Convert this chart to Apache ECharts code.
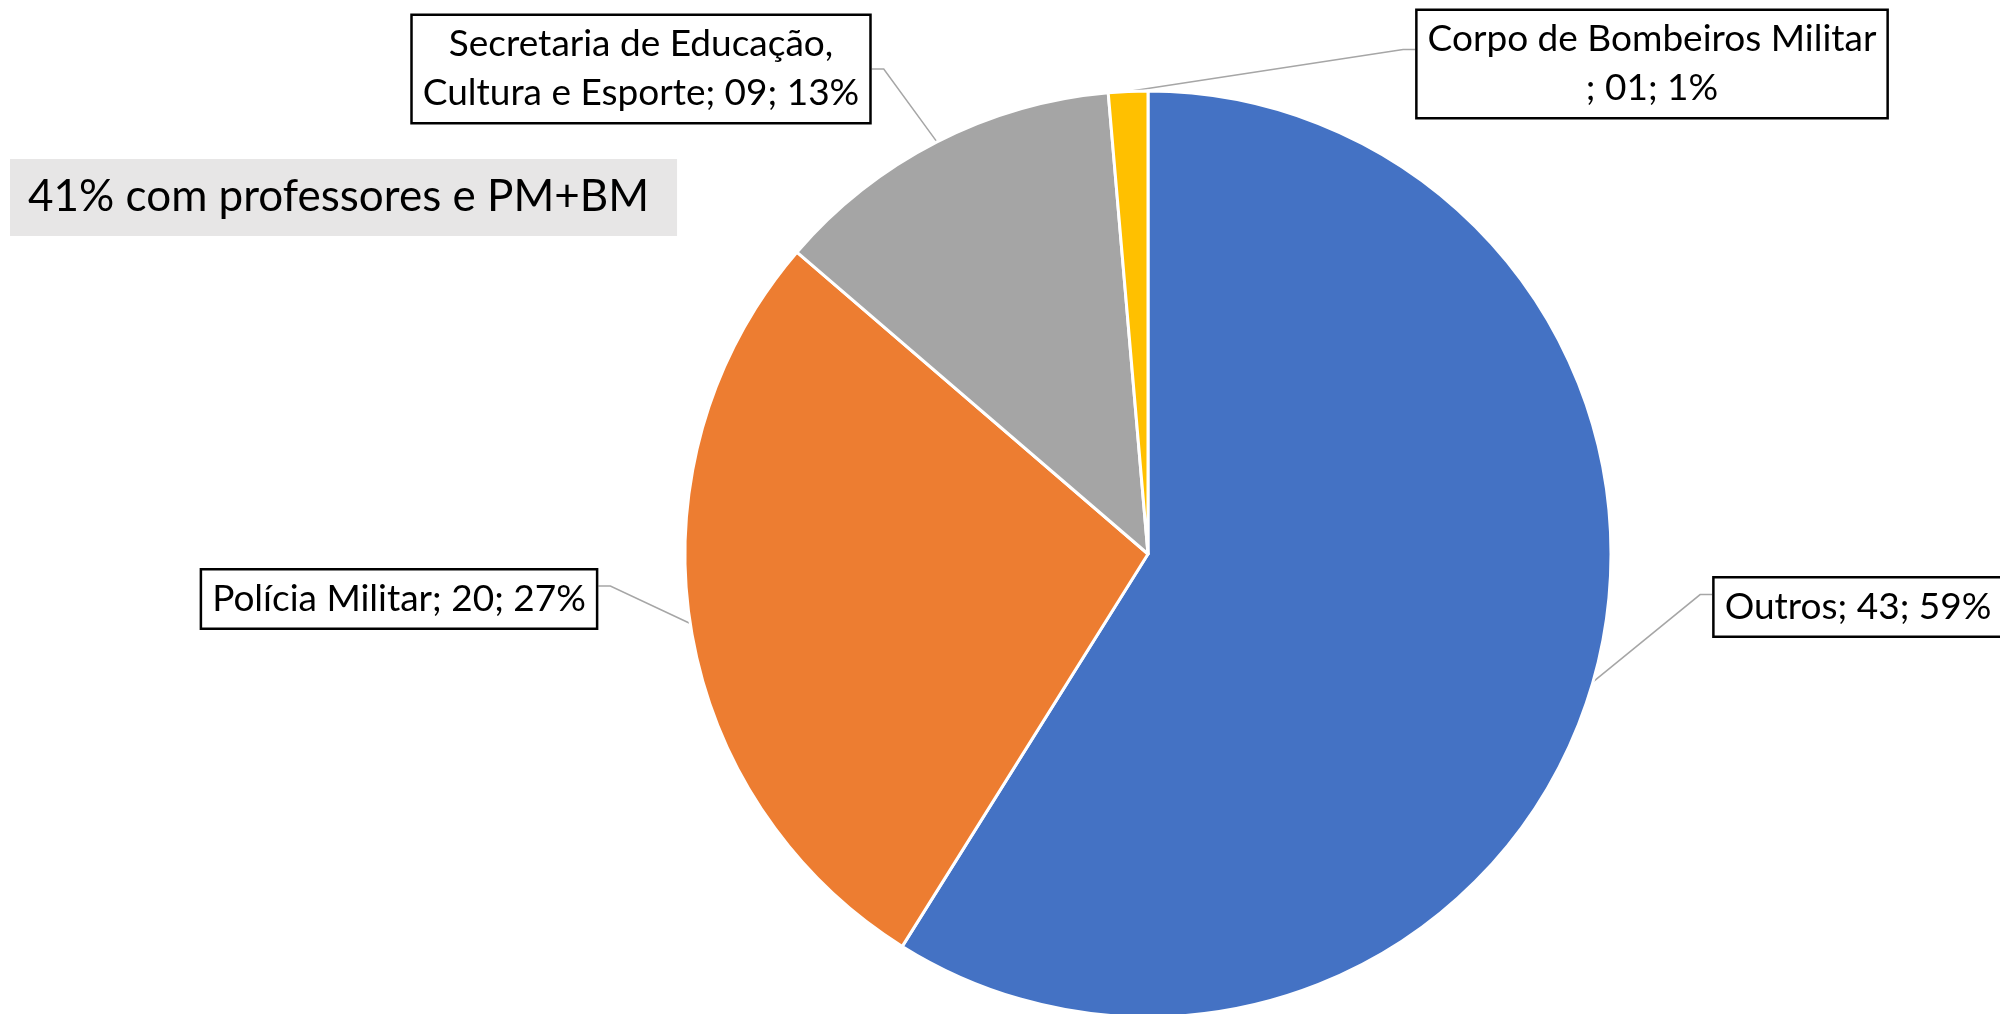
<!DOCTYPE html>
<html>
<head>
<meta charset="utf-8">
<script src="https://cdn.jsdelivr.net/npm/echarts@6/dist/echarts.min.js"></script>
<style>
  html, body { margin: 0; padding: 0; background: #fff; }
  #chart { width: 2000px; height: 1014px; }
</style>
</head>
<body>
<div id="chart"></div>
<script>
// data, clockwise from 12 o'clock
const categories = ['Outros', 'Polícia Militar', 'Secretaria de Educação,\nCultura e Esporte', 'Corpo de Bombeiros Militar\n']
const values = [43, 20, 9, 1]
const valueLabels = ['43', '20', '09', '01']
const percentLabels = ['59%', '27%', '13%', '1%']
const note = '41% com professores e PM+BM'

const colors = ['#4472C4', '#ED7D31', '#A5A5A5', '#FFC000']
const font = 'Lato'

// where the label boxes sit (center), and how far down the box the leader line attaches
const labelBoxes = [
  { x: 1858, y: 607, attach: 0.3 },
  { x: 399, y: 599, attach: 0.29 },
  { x: 641, y: 69, attach: 0.5 },
  { x: 1652, y: 64, attach: 0.37 }
]

const chart = echarts.init(document.getElementById('chart'))

const option = {
  animation: false,
  backgroundColor: '#fff',
  title: {
    text: note,
    left: 10,
    top: 159,
    padding: [16, 28, 17, 18],
    backgroundColor: '#e7e6e6',
    textStyle: {
      fontFamily: font,
      fontSize: 44,
      fontWeight: 'normal',
      lineHeight: 44,
      color: '#000'
    }
  },
  series: [
    {
      type: 'pie',
      center: [1148, 554],
      radius: 463,
      startAngle: 90,
      clockwise: true,
      avoidLabelOverlap: false,
      itemStyle: {
        borderColor: '#fff',
        borderWidth: 3
      },
      label: {
        show: true,
        position: 'outside',
        formatter: function (p) {
          const i = p.dataIndex
          return categories[i] + '; ' + valueLabels[i] + '; ' + percentLabels[i]
        },
        fontFamily: font,
        fontSize: 37,
        lineHeight: 49,
        color: '#000',
        align: 'center',
        backgroundColor: '#fff',
        borderColor: '#000',
        borderWidth: 2.5,
        padding: [4, 10]
      },
      labelLine: {
        show: true,
        lineStyle: { color: '#a6a6a6', width: 1.5 }
      },
      labelLayout: function (params) {
        const box = labelBoxes[params.dataIndex]
        const r = params.labelRect
        const edge = params.labelLinePoints[0]
        const top = box.y - r.height / 2
        const ay = top + r.height * box.attach
        let ax, bx
        if (box.x < edge[0]) {
          ax = box.x + r.width / 2
          bx = ax + 12
        } else {
          ax = box.x - r.width / 2
          bx = ax - 12
        }
        return {
          x: box.x,
          y: box.y,
          align: 'center',
          verticalAlign: 'middle',
          labelLinePoints: [edge, [bx, ay], [ax, ay]]
        }
      },
      data: categories.map((name, i) => ({
        name: name,
        value: values[i],
        itemStyle: { color: colors[i] }
      }))
    }
  ]
}

chart.setOption(option)
</script>
</body>
</html>
